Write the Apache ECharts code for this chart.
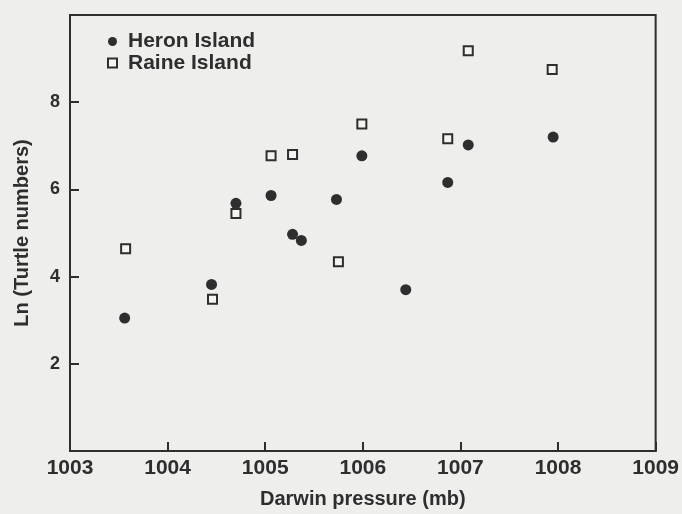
<!DOCTYPE html>
<html>
<head>
<meta charset="utf-8">
<script src="https://cdn.jsdelivr.net/npm/echarts@6/dist/echarts.min.js"></script>
<style>
html,body{margin:0;padding:0;background:#eeeeec;}
#c{width:682px;height:514px;}
</style>
</head>
<body>
<div id="c"></div>
<script>
const heronPressure = [1003.56, 1004.45, 1004.70, 1005.06, 1005.28, 1005.37, 1005.73, 1005.99, 1006.44, 1006.87, 1007.08, 1007.95];
const heronLn       = [3.05, 3.82, 5.68, 5.86, 4.97, 4.83, 5.77, 6.77, 3.70, 6.16, 7.02, 7.20];
const rainePressure = [1003.57, 1004.46, 1004.70, 1005.06, 1005.28, 1005.75, 1005.99, 1006.87, 1007.08, 1007.94];
const raineLn       = [4.64, 3.48, 5.45, 6.77, 6.80, 4.34, 7.50, 7.16, 9.18, 8.75];
const xTicks = [1003, 1004, 1005, 1006, 1007, 1008, 1009];
const yTicks = [2, 4, 6, 8];

const ink = '#2e2e2e';
const font = '"Liberation Sans", Arial, sans-serif';
const chart = echarts.init(document.getElementById('c'));
chart.setOption({
  backgroundColor: '#eeeeec',
  animation: false,
  grid: {left: 70, right: 25, top: 15, bottom: 62, show: true, borderColor: ink, borderWidth: 2, backgroundColor: 'transparent'},
  legend: {
    orient: 'vertical', left: 107, top: 31, itemGap: 0.5, itemWidth: 9, itemHeight: 9, padding: 0,
    textStyle: {color: ink, fontFamily: font, fontWeight: 'bold', fontSize: 21, lineHeight: 19, padding: [0,0,0,6]},
    data: [{name: 'Heron Island', icon: 'circle'}, {name: 'Raine Island', icon: 'rect'}]
  },
  xAxis: {
    type: 'value', min: 1003, max: 1009, interval: 1,
    name: 'Darwin pressure (mb)', nameLocation: 'middle', nameGap: 38,
    nameTextStyle: {color: ink, fontFamily: font, fontWeight: 'bold', fontSize: 20},
    axisLine: {lineStyle: {color: ink, width: 2}},
    axisTick: {inside: true, length: 9, lineStyle: {color: ink, width: 2}},
    axisLabel: {color: ink, fontFamily: font, fontWeight: 'bold', fontSize: 21, margin: 7,
      formatter: v => xTicks.includes(v) ? String(v) : ''},
    splitLine: {show: false}
  },
  yAxis: {
    type: 'value', min: 0, max: 10, interval: 2,
    name: 'Ln (Turtle numbers)', nameLocation: 'middle', nameGap: 38, nameRotate: 90,
    nameTextStyle: {color: ink, fontFamily: font, fontWeight: 'bold', fontSize: 20},
    axisLine: {lineStyle: {color: ink, width: 2}},
    axisTick: {inside: true, length: 9, lineStyle: {color: ink, width: 2}},
    axisLabel: {color: ink, fontFamily: font, fontWeight: 'bold', fontSize: 18, margin: 10,
      formatter: v => yTicks.includes(v) ? String(v) : ''},
    splitLine: {show: false}
  },
  series: [
    {name: 'Heron Island', type: 'scatter', symbol: 'circle', symbolSize: 11,
     itemStyle: {color: ink, opacity: 1},
     data: heronPressure.map((x, i) => [x, heronLn[i]])},
    {name: 'Raine Island', type: 'scatter', symbol: 'rect', symbolSize: 9,
     itemStyle: {color: '#f4f4f2', borderColor: ink, borderWidth: 2, opacity: 1},
     data: rainePressure.map((x, i) => [x, raineLn[i]])}
  ]
});
</script>
</body>
</html>
